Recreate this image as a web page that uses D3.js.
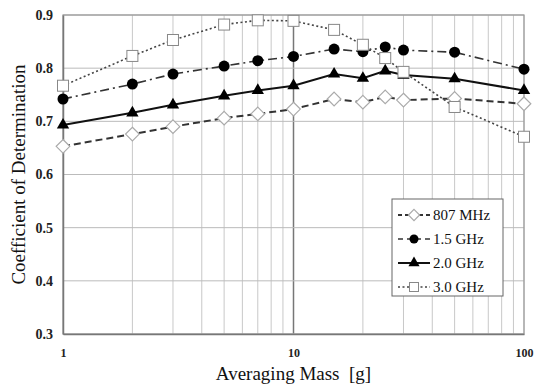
<!DOCTYPE html>
<html>
<head>
<meta charset="utf-8">
<script src="https://cdn.jsdelivr.net/npm/d3@7"></script>
<style>
  body { margin: 0; background: #fff; }
</style>
</head>
<body>
<svg id="chart" width="536" height="385"></svg>
<script>
// masas de promedio (g)
var masses = [1, 2, 3, 5, 7, 10, 15, 20, 25, 30, 50, 100];
var seriesNames = ["807 MHz", "1.5 GHz", "2.0 GHz", "3.0 GHz"];
var values807 = [0.653, 0.676, 0.690, 0.706, 0.714, 0.723, 0.742, 0.736, 0.746, 0.740, 0.743, 0.733];
var values15 = [0.742, 0.770, 0.789, 0.804, 0.814, 0.822, 0.836, 0.831, 0.840, 0.834, 0.830, 0.798];
var values20 = [0.693, 0.716, 0.731, 0.748, 0.758, 0.767, 0.789, 0.781, 0.795, 0.787, 0.780, 0.758];
var values30 = [0.767, 0.823, 0.853, 0.882, 0.890, 0.889, 0.872, 0.844, 0.819, 0.793, 0.727, 0.671];
var yTicks = [0.3, 0.4, 0.5, 0.6, 0.7, 0.8, 0.9];
var xTicks = [1, 10, 100];
var xGrid = [1, 2, 3, 4, 5, 6, 7, 8, 9, 10, 20, 30, 40, 50, 60, 70, 80, 90, 100];

var allValues = [values807, values15, values20, values30];
var serif = "'Liberation Serif', 'Times New Roman', Times, 'DejaVu Serif', serif";

var margin = {left: 63, right: 12, top: 15, bottom: 51},
    width = 536 - margin.left - margin.right,
    height = 385 - margin.top - margin.bottom;

var svg = d3.select("#chart");
var g = svg.append("g").attr("transform", "translate(" + margin.left + "," + margin.top + ")");

var x = d3.scaleLog().domain([1, 100]).range([0, width]);
var y = d3.scaleLinear().domain([0.3, 0.9]).range([height, 0]);

// rejilla
g.selectAll(".vgrid").data(xGrid).enter().append("line")
    .attr("x1", function(d) { return x(d); })
    .attr("x2", function(d) { return x(d); })
    .attr("y1", 0).attr("y2", height)
    .attr("stroke", function(d) { return d === 10 ? "#777" : "#c8c8c8"; })
    .attr("stroke-width", function(d) { return d === 10 ? 1.5 : 1; });

g.selectAll(".hgrid").data(yTicks).enter().append("line")
    .attr("x1", 0).attr("x2", width)
    .attr("y1", function(d) { return y(d); })
    .attr("y2", function(d) { return y(d); })
    .attr("stroke", "#bbb");

g.append("rect")
    .attr("width", width).attr("height", height)
    .attr("fill", "none").attr("stroke", "#999").attr("stroke-width", 1.2);

// ejes
var xAxis = d3.axisBottom(x).tickValues(xTicks).tickSize(0).tickPadding(14)
    .tickFormat(d3.format("d"));
g.append("g")
    .attr("transform", "translate(0," + height + ")")
    .attr("font-family", serif)
    .call(xAxis)
    .call(function(s) { s.select(".domain").attr("stroke", "#777").attr("stroke-width", 1.5); })
    .selectAll("text")
    .attr("font-family", serif)
    .attr("font-size", 12).attr("font-weight", "bold").attr("fill", "#222");

var yAxis = d3.axisLeft(y).tickValues(yTicks).tickSize(0).tickPadding(10)
    .tickFormat(d3.format(".1f"));
g.append("g")
    .call(yAxis)
    .attr("font-family", serif)
    .call(function(s) { s.select(".domain").attr("stroke", "#777").attr("stroke-width", 1.5); })
    .selectAll("text")
    .attr("font-family", serif)
    .attr("font-size", 14).attr("font-weight", "bold").attr("fill", "#222");

// titulos
svg.append("text")
    .attr("x", margin.left + x(10))
    .attr("y", 380)
    .attr("text-anchor", "middle")
    .attr("font-family", serif)
    .attr("font-size", 19).attr("fill", "#111")
    .text("Averaging Mass\u00a0\u00a0[g]");

svg.append("text")
    .attr("transform", "translate(25," + (margin.top + height / 2) + ") rotate(-90)")
    .attr("text-anchor", "middle")
    .attr("font-family", serif)
    .attr("font-size", 19).attr("fill", "#111")
    .text("Coefficient of Determination");

// estilos de serie
var dashes = ["7,4", "9,4,2,4", null, "2,2.5"];
var lineWidth = [2, 1.6, 2, 1.6];
var lineColor = ["#333", "#333", "#111", "#444"];

function drawMarker(sel, k, size) {
    if (k === 0) {
        var h = size * 0.62;
        sel.append("path")
            .attr("d", "M0," + (-h) + "L" + h + ",0L0," + h + "L" + (-h) + ",0Z")
            .attr("fill", "#fff").attr("stroke", "#aaa").attr("stroke-width", 1.2);
    } else if (k === 1) {
        sel.append("circle").attr("r", size / 2)
            .attr("fill", "#000");
    } else if (k === 2) {
        sel.append("path")
            .attr("d", d3.symbol().type(d3.symbolTriangle).size(size * 6)())
            .attr("fill", "#000");
    } else {
        sel.append("rect")
            .attr("x", -size / 2).attr("y", -size / 2)
            .attr("width", size).attr("height", size)
            .attr("fill", "#fff").attr("stroke", "#888").attr("stroke-width", 1);
    }
}

var line = d3.line()
    .x(function(d, i) { return x(masses[i]); })
    .y(function(d) { return y(d); });

allValues.forEach(function(vals, k) {
    g.append("path")
        .datum(vals)
        .attr("d", line)
        .attr("fill", "none")
        .attr("stroke", lineColor[k])
        .attr("stroke-width", lineWidth[k])
        .attr("stroke-dasharray", dashes[k]);
});

allValues.forEach(function(vals, k) {
    g.selectAll(".m" + k).data(vals).enter().append("g")
        .attr("transform", function(d, i) { return "translate(" + x(masses[i]) + "," + y(d) + ")"; })
        .each(function() { drawMarker(d3.select(this), k, 11); });
});

// leyenda
var legend = svg.append("g").attr("transform", "translate(392,199)");
legend.append("rect")
    .attr("width", 111).attr("height", 97)
    .attr("fill", "#fff").attr("stroke", "#666");

var item = legend.selectAll(".item").data(seriesNames).enter().append("g")
    .attr("transform", function(d, i) { return "translate(0," + (16 + i * 24) + ")"; });

item.append("line")
    .attr("x1", 6).attr("x2", 38)
    .attr("stroke", function(d, i) { return lineColor[i]; })
    .attr("stroke-width", function(d, i) { return lineWidth[i]; })
    .attr("stroke-dasharray", function(d, i) { return i === 1 ? "5,4" : i === 0 ? "4,3" : dashes[i]; });

item.append("g")
    .attr("transform", "translate(22,0)")
    .each(function(d, i) { drawMarker(d3.select(this), i, 9); });

item.append("text")
    .attr("x", 41).attr("dy", "0.35em")
    .attr("font-family", serif)
    .attr("font-size", 15).attr("fill", "#111")
    .text(function(d) { return d; });
</script>
</body>
</html>
